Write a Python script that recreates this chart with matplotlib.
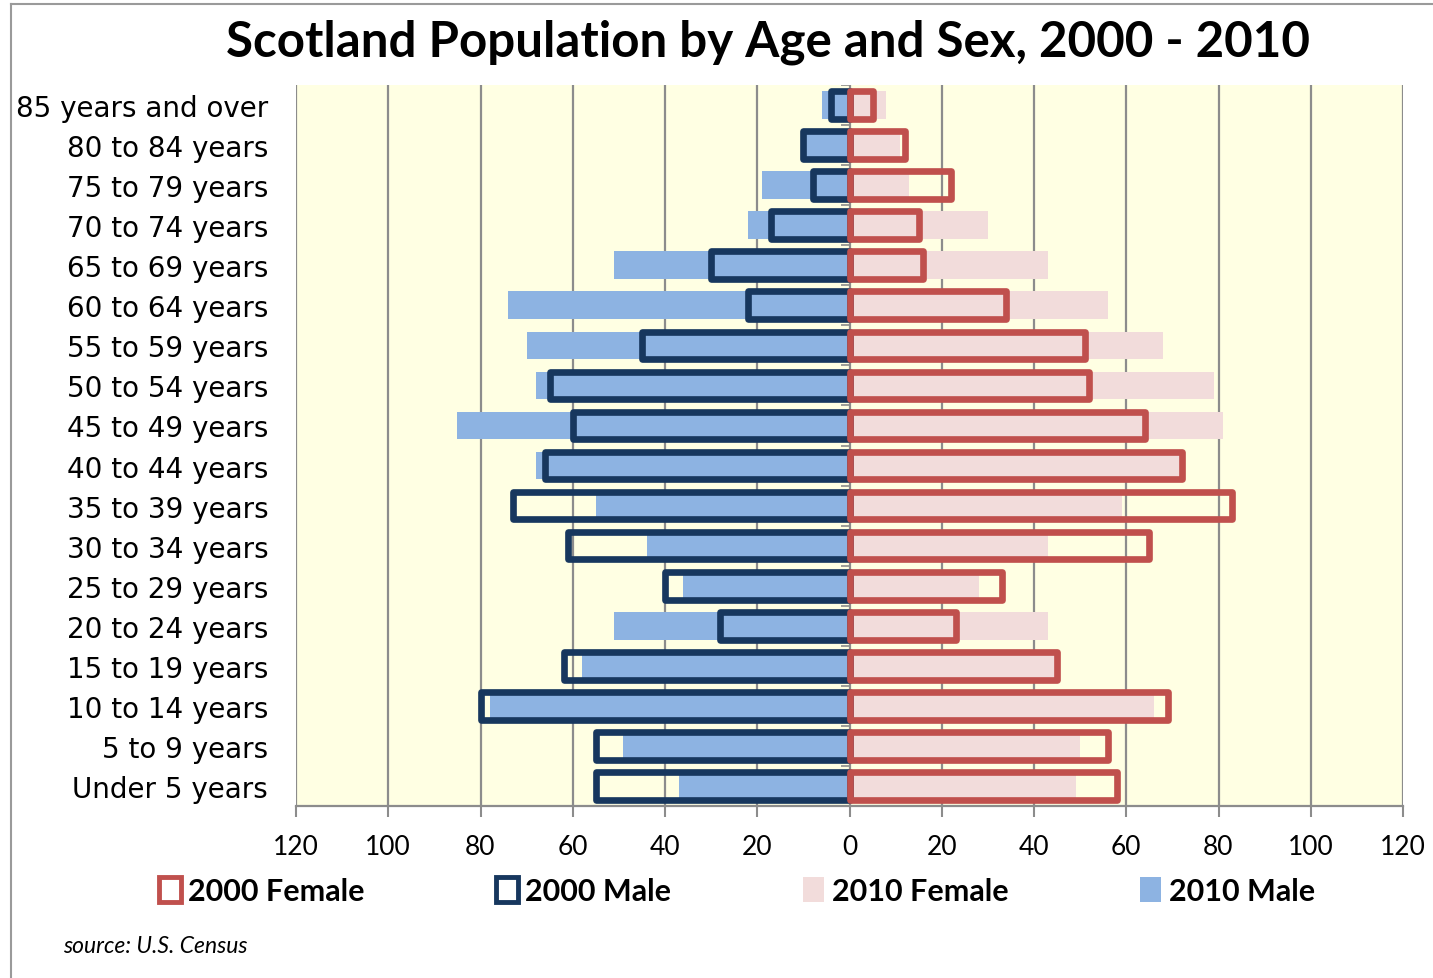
import numpy as np
import matplotlib.pyplot as plt
from matplotlib.patches import Patch

# data (youngest -> oldest), population in thousands
AGES = ["Under 5 years", "5 to 9 years", "10 to 14 years", "15 to 19 years",
        "20 to 24 years", "25 to 29 years", "30 to 34 years", "35 to 39 years",
        "40 to 44 years", "45 to 49 years", "50 to 54 years", "55 to 59 years",
        "60 to 64 years", "65 to 69 years", "70 to 74 years", "75 to 79 years",
        "80 to 84 years", "85 years and over"]
male_2010 = [37, 49, 78, 58, 51, 36, 44, 55, 68, 85, 68, 70, 74, 51, 22, 19, 10, 6]
male_2000 = [55, 55, 80, 62, 28, 40, 61, 73, 66, 60, 65, 45, 22, 30, 17, 8, 10, 4]
female_2010 = [49, 50, 66, 45, 43, 28, 43, 59, 72, 81, 79, 68, 56, 43, 30, 13, 11, 8]
female_2000 = [58, 56, 69, 45, 23, 33, 65, 83, 72, 64, 52, 51, 34, 16, 15, 22, 12, 5]
XTICKS = list(range(-120, 121, 20))

RED = "#C0504D"
NAVY = "#17375E"
PINK = "#F2DCDB"
BLUE = "#8DB3E2"
BG = "#FFFFE3"
GRID = "#8C8C8C"

plt.rcParams['font.family'] = ['Lato', 'DejaVu Sans']

fig = plt.figure(figsize=(14.33, 9.79), dpi=100)
ax = fig.add_axes([296/1433, 1-807/979, (1403-296)/1433, (807-86)/979])
ax.set_facecolor(BG)

y = np.arange(len(AGES))
h = 0.69
lw = 4.8

# 2010 filled bars in the back
ax.barh(y, -np.array(male_2010), height=h, color=BLUE, zorder=2)
ax.barh(y, female_2010, height=h, color=PINK, zorder=2)
# 2000 outlined bars on top
for vals, col, sign in [(male_2000, NAVY, -1), (female_2000, RED, 1)]:
    bars = ax.barh(y, sign*np.array(vals), height=h, facecolor="none",
                   edgecolor=col, linewidth=lw, zorder=3)
    for b in bars:
        b.set_joinstyle("round")

ax.set_xlim(-120, 120)
ax.set_ylim(-0.5, len(AGES)-0.5)
ax.set_xticks(XTICKS)
ax.set_xticklabels([str(abs(t)) for t in XTICKS], fontsize=19)
ax.set_yticks(y)
ax.set_yticklabels(AGES, fontsize=20, family="DejaVu Sans")
ax.tick_params(axis="y", length=0, pad=20)
ax.tick_params(axis="x", length=8, width=1.5, color=GRID, pad=12)
ax.grid(axis="x", color=GRID, lw=1.6, zorder=1)
ax.set_axisbelow(True)
for s in ["top", "left", "right"]:
    ax.spines[s].set_visible(False)
ax.spines["bottom"].set_color(GRID)
ax.spines["bottom"].set_linewidth(1.6)

# small tick marks on the centre axis between categories
ax.hlines(np.arange(len(AGES)+1)-0.5, -1.8, 0, color=GRID, lw=1.2, zorder=2)

fig.text(768/1433, 1-42/979, "Scotland Population by Age and Sex, 2000 - 2010",
         ha="center", va="center", fontsize=35.5, fontweight="bold")

handles = [Patch(facecolor="white", edgecolor=RED, linewidth=3.5),
           Patch(facecolor="white", edgecolor=NAVY, linewidth=3.5),
           Patch(facecolor=PINK, edgecolor="none"),
           Patch(facecolor=BLUE, edgecolor="none")]
fig.legend(handles, ["2000 Female", "2000 Male", "2010 Female", "2010 Male"],
           loc="center", bbox_to_anchor=(737/1433, 1-892/979), ncol=4,
           frameon=False, handlelength=0.7, handleheight=0.9, handletextpad=0.25,
           columnspacing=4.3, prop={"size": 22, "weight": "bold"})

fig.text(63/1433, 1-947/979, "source: U.S. Census", fontsize=16.5, style="italic",
         ha="left", va="center")

# chart area border (left and top)
fig.add_artist(plt.Line2D([11/1433, 11/1433], [0, 1-5/979], color="#9A9A9A", lw=1.5))
fig.add_artist(plt.Line2D([11/1433, 1], [1-5/979, 1-5/979], color="#9A9A9A", lw=1.5))

fig.savefig("out.png", dpi=100, facecolor="white")
